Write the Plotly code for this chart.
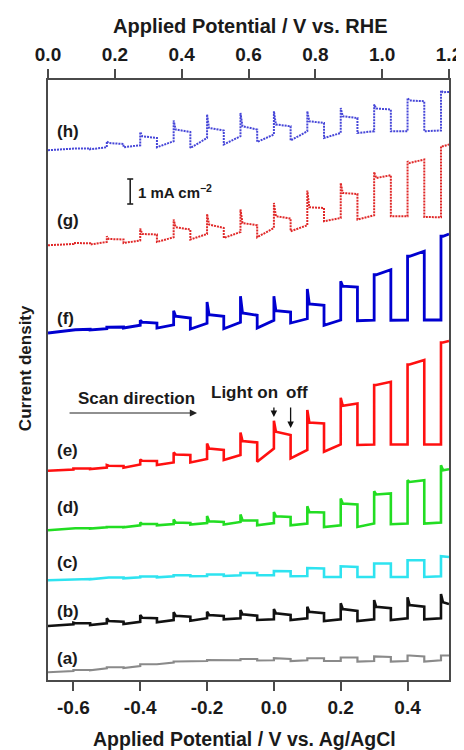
import plotly.graph_objects as go

# ---- common chopping grid (V vs. Ag/AgCl) ----
on_edges = [-0.6, -0.5, -0.4, -0.3, -0.2, -0.1, 0.0, 0.1, 0.2, 0.3, 0.4, 0.5]
half_period = 0.05
spike_width = 0.006
x_start, x_end = -0.676, 0.524

# ---- trace data: current density relative to start (mA cm^-2) ----
# dark (before light on), peak (spike), lit0 (after spike), lit1 (at light off), under (right after off)
a_dark = [0.05, 0.16, 0.25, 0.39, 0.45, 0.48, 0.48, 0.48, 0.45, 0.45, 0.45, 0.48]
a_peak = [0.09, 0.20, 0.32, 0.43, 0.49, 0.53, 0.56, 0.56, 0.59, 0.63, 0.67, 0.67]
a_lit0 = [0.09, 0.20, 0.32, 0.43, 0.49, 0.53, 0.56, 0.56, 0.59, 0.63, 0.67, 0.67]
a_lit1 = [0.09, 0.20, 0.32, 0.43, 0.49, 0.53, 0.53, 0.56, 0.59, 0.61, 0.63, 0.67]
a_under = [0.08, 0.17, 0.32, 0.43, 0.47, 0.47, 0.45, 0.45, 0.43, 0.43, 0.43]

b_dark = [0.07, 0.11, 0.17, 0.24, 0.31, 0.31, 0.27, 0.31, 0.27, 0.27, 0.31, 0.31]
b_peak = [0.13, 0.31, 0.44, 0.55, 0.57, 0.64, 0.68, 0.77, 0.91, 1.04, 1.15, 1.28]
b_lit0 = [0.11, 0.20, 0.33, 0.41, 0.44, 0.47, 0.51, 0.57, 0.68, 0.77, 0.84, 0.95]
b_lit1 = [0.11, 0.17, 0.31, 0.37, 0.40, 0.41, 0.44, 0.51, 0.60, 0.71, 0.77, 0.88]
b_under = [0.04, 0.08, 0.15, 0.21, 0.27, 0.24, 0.24, 0.20, 0.20, 0.24, 0.27]

c_dark = [0.04, 0.08, 0.12, 0.16, 0.17, 0.20, 0.20, 0.17, 0.13, 0.13, 0.13, 0.16]
c_peak = [0.05, 0.11, 0.15, 0.20, 0.23, 0.29, 0.37, 0.49, 0.56, 0.67, 0.80, 0.96]
c_lit0 = [0.05, 0.11, 0.15, 0.20, 0.23, 0.29, 0.37, 0.49, 0.56, 0.67, 0.80, 0.96]
c_lit1 = [0.05, 0.11, 0.15, 0.20, 0.23, 0.29, 0.36, 0.47, 0.53, 0.67, 0.80, 0.93]
c_under = [0.04, 0.08, 0.12, 0.16, 0.17, 0.20, 0.16, 0.13, 0.13, 0.13, 0.13]

d_dark = [0.07, 0.12, 0.20, 0.25, 0.29, 0.33, 0.29, 0.27, 0.20, 0.27, 0.27, 0.31]
d_peak = [0.08, 0.13, 0.31, 0.43, 0.57, 0.63, 0.73, 0.96, 1.27, 1.56, 2.00, 2.60]
d_lit0 = [0.08, 0.13, 0.25, 0.31, 0.36, 0.40, 0.56, 0.73, 1.07, 1.43, 1.93, 2.40]
d_lit1 = [0.08, 0.13, 0.25, 0.29, 0.33, 0.39, 0.53, 0.71, 1.03, 1.47, 2.00, 2.44]
d_under = [0.07, 0.12, 0.20, 0.23, 0.23, 0.20, 0.20, 0.13, 0.13, 0.24, 0.27]

e_dark = [0.05, 0.13, 0.25, 0.33, 0.47, 0.63, 0.89, 0.83, 1.05, 1.05, 1.05, 1.05]
e_peak = [0.09, 0.23, 0.45, 0.73, 1.09, 1.53, 2.00, 2.43, 2.92, 3.43, 4.25, 5.13]
e_lit0 = [0.09, 0.20, 0.40, 0.65, 0.89, 1.19, 1.56, 1.93, 2.60, 3.43, 4.25, 5.13]
e_lit1 = [0.09, 0.19, 0.39, 0.63, 0.83, 1.13, 1.43, 1.89, 2.69, 3.56, 4.43, 5.19]
e_under = [0.07, 0.12, 0.23, 0.33, 0.43, 0.36, 0.49, 0.76, 1.03, 1.05, 1.05]

f_dark = [0.11, 0.17, 0.31, 0.33, 0.39, 0.43, 0.51, 0.57, 0.52, 0.51, 0.52, 0.52]
f_peak = [0.13, 0.23, 0.51, 0.89, 1.24, 1.47, 1.47, 1.76, 2.07, 2.33, 3.07, 3.87]
f_lit0 = [0.13, 0.23, 0.43, 0.67, 0.73, 0.80, 0.89, 1.16, 1.87, 2.33, 3.07, 3.87]
f_lit1 = [0.15, 0.24, 0.40, 0.60, 0.67, 0.71, 0.84, 1.11, 1.84, 2.53, 3.27, 3.96]
f_under = [0.12, 0.20, 0.20, 0.16, 0.17, 0.20, 0.40, 0.31, 0.49, 0.51, 0.52]

g_dark = [0.05, 0.13, 0.19, 0.32, 0.45, 0.53, 0.69, 0.80, 1.09, 1.20, 1.16, 1.12]
g_peak = [0.09, 0.36, 0.67, 1.03, 1.25, 1.43, 1.69, 2.19, 2.49, 2.93, 3.36, 3.96]
g_lit0 = [0.09, 0.25, 0.45, 0.72, 0.83, 0.89, 1.16, 1.52, 2.09, 2.69, 3.29, 3.96]
g_lit1 = [0.08, 0.23, 0.43, 0.63, 0.69, 0.80, 1.07, 1.49, 2.05, 2.80, 3.43, 4.03]
g_under = [0.03, 0.09, 0.13, 0.23, 0.29, 0.32, 0.56, 0.96, 1.03, 1.16, 1.13]

h_dark = [0.05, 0.12, 0.20, 0.36, 0.49, 0.56, 0.63, 0.76, 0.69, 0.76, 0.76, 0.79]
h_peak = [0.07, 0.36, 0.73, 1.19, 1.43, 1.49, 1.56, 1.56, 1.69, 1.83, 2.09, 2.39]
h_lit0 = [0.07, 0.29, 0.56, 0.83, 0.89, 0.96, 1.03, 1.16, 1.36, 1.67, 1.99, 2.32]
h_lit1 = [0.07, 0.25, 0.49, 0.73, 0.79, 0.83, 0.96, 1.09, 1.29, 1.63, 1.96, 2.33]
h_under = [0.04, 0.12, 0.12, 0.09, 0.23, 0.33, 0.39, 0.49, 0.69, 0.76, 0.76]

# vertical offsets of the stacked curves (mA cm^-2)
labels = ["(a)", "(b)", "(c)", "(d)", "(e)", "(f)", "(g)", "(h)"]
offsets = [0.31, 2.16, 3.99, 5.99, 8.37, 13.88, 17.39, 21.19]
label_y = [0.88, 2.76, 4.72, 6.92, 9.2, 14.48, 18.4, 21.96]

series = [
    (a_dark, a_peak, a_lit0, a_lit1, a_under),
    (b_dark, b_peak, b_lit0, b_lit1, b_under),
    (c_dark, c_peak, c_lit0, c_lit1, c_under),
    (d_dark, d_peak, d_lit0, d_lit1, d_under),
    (e_dark, e_peak, e_lit0, e_lit1, e_under),
    (f_dark, f_peak, f_lit0, f_lit1, f_under),
    (g_dark, g_peak, g_lit0, g_lit1, g_under),
    (h_dark, h_peak, h_lit0, h_lit1, h_under),
]
colors = ["#8a8a8a", "#111111", "#2ee3f0", "#22dd22", "#ff1010", "#0000d0", "#e02828", "#4646d8"]
widths = [2.2, 2.6, 2.6, 2.6, 2.6, 2.8, 2.0, 2.0]
dashes = ["solid", "solid", "solid", "solid", "solid", "solid", "2px,1px", "2px,1px"]


def build(dark, peak, lit0, lit1, under, off):
    xs, ys = [x_start], [0.0]
    n = len(on_edges)
    for k in range(n):
        xo = on_edges[k]
        xs += [xo, xo, xo + spike_width]
        ys += [dark[k], peak[k], lit0[k]]
        if k < n - 1:
            xs += [xo + half_period, xo + half_period]
            ys += [lit1[k], under[k]]
        else:
            xs += [x_end]
            ys += [lit1[k]]
    return xs, [y + off for y in ys]


fig = go.Figure()
for i, s in enumerate(series):
    xs, ys = build(*s, offsets[i])
    fig.add_trace(go.Scatter(x=xs, y=ys, mode="lines",
                             line=dict(color=colors[i], width=widths[i], dash=dashes[i]),
                             showlegend=False, hoverinfo="skip"))

# dummy trace for the top (RHE) axis
fig.add_trace(go.Scatter(x=[0.6], y=[None], xaxis="x2", showlegend=False, hoverinfo="skip"))

FONT = "Liberation Sans, Arial, sans-serif"
frame = "#4a4a4a"
TXT = "#1a1a1a"

fig.update_layout(
    width=464, height=750,
    margin=dict(l=40, r=23, t=72, b=78, autoexpand=False),
    paper_bgcolor="white", plot_bgcolor="white",
    font=dict(family=FONT, color=TXT),
    xaxis=dict(range=[x_start, x_end], tickvals=[-0.6, -0.4, -0.2, 0.0, 0.2, 0.4],
               ticktext=["-0.6", "-0.4", "-0.2", "0.0", "0.2", "0.4"],
               ticks="outside", ticklen=9, tickwidth=1.6, tickcolor=frame,
               showline=True, linecolor=frame, linewidth=1.8, mirror=False,
               showgrid=False, zeroline=False, automargin=False,
               tickfont=dict(size=19, weight="bold", family=FONT, color=TXT),
               ticklabelstandoff=0),
    xaxis2=dict(range=[0, 1.2], overlaying="x", side="top",
                tickvals=[0.0, 0.2, 0.4, 0.6, 0.8, 1.0, 1.2],
                ticktext=["0.0", "0.2", "0.4", "0.6", "0.8", "1.0", "1.2"],
                ticks="outside", ticklen=9, tickwidth=1.6, tickcolor=frame,
                showline=True, linecolor=frame, linewidth=1.8,
                showgrid=False, zeroline=False, automargin=False,
                tickfont=dict(size=19, weight="bold", family=FONT, color=TXT),
                ticklabelstandoff=1),
    yaxis=dict(range=[0, 24], showticklabels=False, ticks="", showgrid=False, automargin=False,
               zeroline=False, showline=True, linecolor=frame, linewidth=1.8, mirror=True),
)

ann = []
for lab, ly in zip(labels, label_y):
    ann.append(dict(x=-0.656, y=ly, xref="x", yref="y", text=lab, showarrow=False,
                    xanchor="left", yanchor="middle",
                    font=dict(size=17, weight="bold", family=FONT, color=TXT)))

ann += [
    dict(x=0.505, y=1.09, xref="paper", yref="paper", text="Applied Potential / V vs. RHE",
         xanchor="center", yanchor="middle",
         showarrow=False, font=dict(size=20, weight="bold", family=FONT, color=TXT)),
    dict(x=0.49, y=-0.098, xref="paper", yref="paper", text="Applied Potential / V vs. Ag/AgCl",
         xanchor="center", yanchor="middle",
         showarrow=False, font=dict(size=19.5, weight="bold", family=FONT, color=TXT)),
    dict(x=-0.057, y=0.52, xref="paper", yref="paper", text="Current density", textangle=-90,
         xanchor="center", yanchor="middle",
         showarrow=False, font=dict(size=17, weight="bold", family=FONT, color=TXT)),
    dict(x=-0.411, y=11.28, xref="x", yref="y", text="Scan direction", showarrow=False,
         font=dict(size=17, weight="bold", family=FONT, color=TXT)),
    dict(x=-0.230, y=10.68, ax=-0.616, ay=10.68, xref="x", yref="y", axref="x", ayref="y",
         text="", showarrow=True, arrowhead=2, arrowsize=1.2, arrowwidth=1.2, arrowcolor="#222"),
    dict(x=-0.088, y=11.52, xref="x", yref="y", text="Light on", showarrow=False,
         font=dict(size=17, weight="bold", family=FONT, color=TXT)),
    dict(x=0.068, y=11.52, xref="x", yref="y", text="off", showarrow=False,
         font=dict(size=17, weight="bold", family=FONT, color=TXT)),
    dict(x=0.0, y=10.52, ax=0.0, ay=10.96, xref="x", yref="y", axref="x", ayref="y",
         text="", showarrow=True, arrowhead=2, arrowsize=1.0, arrowwidth=1.3, arrowcolor="#111"),
    dict(x=0.05, y=10.08, ax=0.05, ay=10.96, xref="x", yref="y", axref="x", ayref="y",
         text="", showarrow=True, arrowhead=2, arrowsize=1.0, arrowwidth=1.3, arrowcolor="#111"),
    dict(x=-0.412, y=19.56, xref="x", yref="y", text="1 mA cm<sup>−2</sup>", showarrow=False,
         xanchor="left", font=dict(size=15, weight="bold", family=FONT, color=TXT)),
]
fig.update_layout(annotations=ann)

# scale bar (1 mA cm^-2)
bar_x, bar_y0, bar_len, cap = -0.430, 19.04, 1.0, 0.009
for (x0, y0, x1, y1) in [(bar_x, bar_y0, bar_x, bar_y0 + bar_len),
                         (bar_x - cap, bar_y0, bar_x + cap, bar_y0),
                         (bar_x - cap, bar_y0 + bar_len, bar_x + cap, bar_y0 + bar_len)]:
    fig.add_shape(type="line", x0=x0, y0=y0, x1=x1, y1=y1, xref="x", yref="y",
                  line=dict(color="#222", width=1.6))

fig.write_html("out.html")
